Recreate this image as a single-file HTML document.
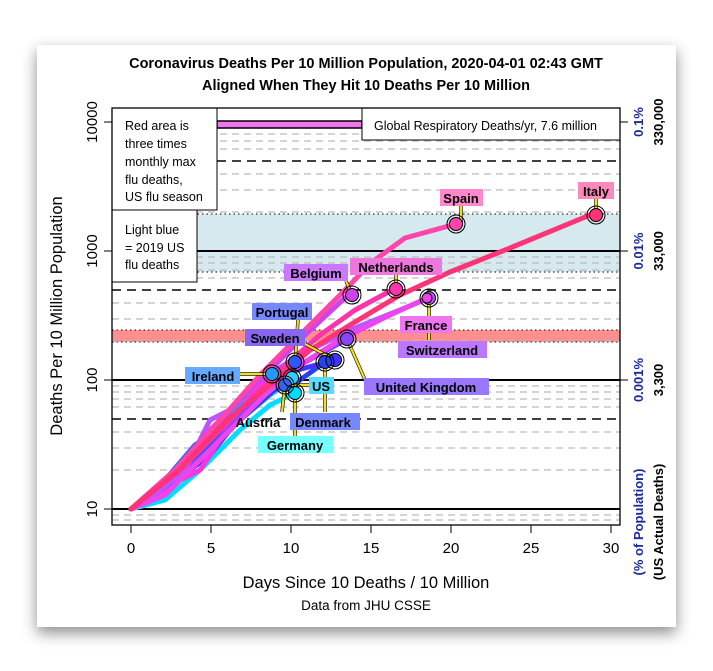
<!DOCTYPE html>
<html><head><meta charset="utf-8"><style>
body{margin:0;background:#fff;width:713px;height:671px;overflow:hidden}
.card{position:absolute;left:37px;top:45px;width:639px;height:582px;background:#fff;box-shadow:0 6px 14px rgba(0,0,0,0.45)}
svg{position:absolute;left:0;top:0}
text{font-family:"Liberation Sans",sans-serif}
</style></head><body>
<div class="card"></div>
<svg width="713" height="671" viewBox="0 0 713 671">
<text x="366" y="68" font-size="14.5" font-weight="bold" text-anchor="middle">Coronavirus Deaths Per 10 Million Population, 2020-04-01 02:43 GMT</text>
<text x="366" y="90" font-size="14.5" font-weight="bold" text-anchor="middle">Aligned When They Hit 10 Deaths Per 10 Million</text>
<rect x="112" y="214" width="508" height="58" fill="#d5e9ee"/>
<rect x="112" y="330" width="508" height="12" fill="#ff8f8f"/>
<g stroke="#333" stroke-dasharray="1.5,3" stroke-width="1.2">
<line x1="112" y1="214" x2="620" y2="214"/><line x1="112" y1="272" x2="620" y2="272"/>
<line x1="112" y1="330" x2="620" y2="330"/><line x1="112" y1="342" x2="620" y2="342"/>
</g>
<g stroke="#bbb" stroke-dasharray="7,5" stroke-width="1.2">
<line x1="112" y1="470" x2="620" y2="470"/><line x1="112" y1="448" x2="620" y2="448"/><line x1="112" y1="432" x2="620" y2="432"/><line x1="112" y1="407" x2="620" y2="407"/><line x1="112" y1="399" x2="620" y2="399"/><line x1="112" y1="392" x2="620" y2="392"/><line x1="112" y1="386" x2="620" y2="386"/>
<line x1="112" y1="341" x2="620" y2="341"/><line x1="112" y1="319" x2="620" y2="319"/><line x1="112" y1="303" x2="620" y2="303"/><line x1="112" y1="278" x2="620" y2="278"/><line x1="112" y1="270" x2="620" y2="270"/><line x1="112" y1="263" x2="620" y2="263"/><line x1="112" y1="257" x2="620" y2="257"/>
<line x1="112" y1="212" x2="620" y2="212"/><line x1="112" y1="190" x2="620" y2="190"/><line x1="112" y1="174" x2="620" y2="174"/><line x1="112" y1="149" x2="620" y2="149"/><line x1="112" y1="141" x2="620" y2="141"/><line x1="112" y1="134" x2="620" y2="134"/><line x1="112" y1="128" x2="620" y2="128"/>
<line x1="112" y1="515" x2="620" y2="515"/><line x1="112" y1="520" x2="620" y2="520"/>
</g>
<g stroke="#000" stroke-dasharray="9,6" stroke-width="1.5">
<line x1="112" y1="419" x2="620" y2="419"/><line x1="112" y1="290" x2="620" y2="290"/><line x1="112" y1="161" x2="620" y2="161"/>
</g>
<g stroke="#000" stroke-width="2">
<line x1="112" y1="509" x2="620" y2="509"/><line x1="112" y1="380" x2="620" y2="380"/><line x1="112" y1="251" x2="620" y2="251"/>
</g>
<rect x="217" y="121" width="145" height="7" fill="#ee77ee" stroke="#000" stroke-width="1.5"/>
<g fill="none" stroke-width="5" stroke-linejoin="round" stroke-linecap="round">
<polyline stroke="#2299ff" points="131,509 160,485 190,455 220,425 250,395 272,374"/>
<polyline stroke="#00ddff" points="131,509 165,500 200,470 240,430 270,405 295,393"/>
<polyline stroke="#33ccff" points="131,509 170,480 205,455 240,420 270,395 292,380"/>
<polyline stroke="#3366ee" points="131,509 165,480 195,445 225,425 255,400 285,385"/>
<polyline stroke="#3355ff" points="131,509 170,480 205,450 240,410 270,385 295,362"/>
<polyline stroke="#2244ee" points="131,509 160,488 200,460 240,420 280,385 300,380 325,362"/>
<polyline stroke="#4433ff" points="131,509 170,485 210,455 250,405 290,372 335,360"/>
<polyline stroke="#ff33dd" points="131,509 165,490 180,480 200,470 220,440 240,410 260,385 290,365"/>
<polyline stroke="#8844ff" points="131,509 175,480 210,450 250,405 275,385 300,365 347,339"/>
<polyline stroke="#bb55ff" points="131,509 160,490 185,470 210,420 230,410 260,380 300,355 350,330 400,310 429,298"/>
<polyline stroke="#ee44ee" points="131,509 165,495 195,465 230,430 265,395 300,365 340,340 390,315 427,298"/>
<polyline stroke="#cc44ee" points="131,509 175,470 210,430 245,395 275,365 305,335 348,295"/>
<polyline stroke="#ff33aa" points="131,509 180,470 230,420 280,370 320,335 355,310 394,289"/>
<polyline stroke="#ff44aa" points="131,509 175,470 220,420 260,375 300,335 340,295 372,262 405,238 456,224"/>
<polyline stroke="#ff3377" points="131,509 179,470 227,420 270,385 310,350 350,325 400,295 450,272 510,248 590,215"/>
</g>
<g stroke="#000" stroke-width="3.4"><g id="l">
<line x1="461" y1="224" x2="461" y2="206"/><line x1="596" y1="215" x2="596" y2="198"/>
<line x1="396" y1="289" x2="396" y2="275"/><line x1="352" y1="295" x2="346" y2="281"/>
<line x1="429" y1="298" x2="429" y2="340"/><line x1="347" y1="339" x2="366" y2="382"/>
<line x1="272" y1="374" x2="240" y2="374"/><line x1="295" y1="362" x2="298" y2="320"/>
<line x1="335" y1="360" x2="305" y2="344"/><line x1="325" y1="362" x2="325" y2="412"/>
<line x1="292" y1="385" x2="310" y2="385"/><line x1="285" y1="385" x2="282" y2="412"/>
<line x1="295" y1="393" x2="295" y2="436"/></g></g>
<g stroke="#f0e020" stroke-width="2.2"><use href="#l"/></g>
<g stroke="#000" stroke-width="1" id="m">
<circle cx="456" cy="224" r="6.5" fill="#ff44aa"/><circle cx="596" cy="215" r="6.5" fill="#ff3377"/>
<circle cx="396" cy="289" r="6.5" fill="#ff33aa"/><circle cx="352" cy="295" r="6.5" fill="#cc44ee"/>
<circle cx="429" cy="298" r="6.5" fill="#bb55ff"/><circle cx="427" cy="298" r="5" fill="#ee44ee"/>
<circle cx="347" cy="339" r="6.5" fill="#8844ff"/><circle cx="272" cy="374" r="6.5" fill="#2299ff"/>
<circle cx="295" cy="362" r="6.5" fill="#3355ff"/><circle cx="335" cy="360" r="6.5" fill="#4433ff"/>
<circle cx="325" cy="362" r="6.5" fill="#2244ee"/><circle cx="292" cy="378" r="6.5" fill="#33ccff"/>
<circle cx="285" cy="385" r="6.5" fill="#3366ee"/><circle cx="295" cy="393" r="6.5" fill="#00ddff"/>
</g>
<g stroke="#000" stroke-width="1" fill="none">
<circle cx="456" cy="224" r="9"/><circle cx="596" cy="215" r="9"/><circle cx="396" cy="289" r="9"/><circle cx="352" cy="295" r="9"/><circle cx="429" cy="298" r="9"/><circle cx="347" cy="339" r="9"/><circle cx="272" cy="374" r="9"/><circle cx="295" cy="362" r="9"/><circle cx="335" cy="360" r="9"/><circle cx="325" cy="362" r="9"/><circle cx="292" cy="378" r="9"/><circle cx="285" cy="385" r="9"/><circle cx="295" cy="393" r="9"/>
</g>
<g font-size="13" font-weight="bold">
<rect x="440" y="189" width="43" height="17" fill="#ff88cc"/><text x="461" y="203" text-anchor="middle">Spain</text>
<rect x="578" y="182" width="36" height="17" fill="#ff88bb"/><text x="596" y="196" text-anchor="middle">Italy</text>
<rect x="350" y="258" width="92" height="17" fill="#ee77dd"/><text x="396" y="272" text-anchor="middle">Netherlands</text>
<rect x="284" y="264" width="64" height="17" fill="#cc77ff"/><text x="316" y="278" text-anchor="middle">Belgium</text>
<rect x="400" y="316" width="52" height="17" fill="#ee77ee"/><text x="426" y="330" text-anchor="middle">France</text>
<rect x="398" y="341" width="89" height="17" fill="#bb77ff"/><text x="442" y="355" text-anchor="middle">Switzerland</text>
<rect x="364" y="378" width="125" height="17" fill="#9977ff"/><text x="426" y="392" text-anchor="middle">United Kingdom</text>
<rect x="252" y="303" width="60" height="17" fill="#7788ff"/><text x="282" y="317" text-anchor="middle">Portugal</text>
<rect x="245" y="329" width="60" height="17" fill="#8866ee"/><text x="275" y="343" text-anchor="middle">Sweden</text>
<rect x="185" y="367" width="55" height="17" fill="#66aaff"/><text x="213" y="381" text-anchor="middle">Ireland</text>
<rect x="309" y="377" width="25" height="17" fill="#55ddff"/><text x="321" y="391" text-anchor="middle">US</text>
<text x="258" y="427" text-anchor="middle">Austria</text>
<rect x="290" y="413" width="70" height="17" fill="#7788ff"/><text x="323" y="427" text-anchor="middle">Denmark</text>
<rect x="258" y="436" width="75" height="17" fill="#77ffff"/><text x="295" y="450" text-anchor="middle">Germany</text>
</g>
<g stroke="#000" stroke-width="1" fill="#fff">
<rect x="112" y="108" width="105" height="102"/><rect x="112" y="210" width="85" height="72"/><rect x="362" y="108" width="258" height="32"/>
</g>
<g font-size="12.5">
<text x="125" y="130">Red area is</text><text x="125" y="148">three times</text><text x="125" y="166">monthly max</text><text x="125" y="184">flu deaths,</text><text x="125" y="201">US flu season</text>
<text x="125" y="234">Light blue</text><text x="125" y="252">= 2019 US</text><text x="125" y="269">flu deaths</text>
<text x="374" y="130">Global Respiratory Deaths/yr, 7.6 million</text>
</g>
<rect x="112" y="108" width="508" height="417" fill="none" stroke="#000" stroke-width="1.3"/>
<g stroke="#000" stroke-width="1">
<line x1="104" y1="509" x2="112" y2="509"/><line x1="104" y1="380" x2="112" y2="380"/><line x1="104" y1="251" x2="112" y2="251"/><line x1="104" y1="122" x2="112" y2="122"/>
<line x1="620" y1="380" x2="628" y2="380"/><line x1="620" y1="251" x2="628" y2="251"/><line x1="620" y1="122" x2="628" y2="122"/>
<line x1="131" y1="525" x2="131" y2="533"/><line x1="211" y1="525" x2="211" y2="533"/><line x1="291" y1="525" x2="291" y2="533"/><line x1="371" y1="525" x2="371" y2="533"/><line x1="451" y1="525" x2="451" y2="533"/><line x1="531" y1="525" x2="531" y2="533"/><line x1="611" y1="525" x2="611" y2="533"/>
</g>
<g font-size="15" text-anchor="middle">
<text x="131" y="553">0</text><text x="211" y="553">5</text><text x="291" y="553">10</text><text x="371" y="553">15</text><text x="451" y="553">20</text><text x="531" y="553">25</text><text x="611" y="553">30</text>
<text transform="translate(97,509) rotate(-90)">10</text><text transform="translate(97,380) rotate(-90)">100</text><text transform="translate(97,251) rotate(-90)">1000</text><text transform="translate(97,122) rotate(-90)">10000</text>
</g>
<text x="366" y="588" font-size="16.5" text-anchor="middle">Days Since 10 Deaths / 10 Million</text>
<text x="366" y="610" font-size="13.5" text-anchor="middle">Data from JHU CSSE</text>
<text transform="translate(62,316) rotate(-90)" font-size="16.5" text-anchor="middle">Deaths Per 10 Million Population</text>
<g font-size="13" font-weight="bold" text-anchor="middle">
<g fill="#1a2a99">
<text transform="translate(643,122) rotate(-90)">0.1%</text><text transform="translate(643,251) rotate(-90)">0.01%</text><text transform="translate(643,380) rotate(-90)">0.001%</text>
<text transform="translate(643,522) rotate(-90)">(% of Population)</text></g>
<text transform="translate(663,122) rotate(-90)">330,000</text><text transform="translate(663,251) rotate(-90)">33,000</text><text transform="translate(663,380) rotate(-90)">3,300</text>
<text transform="translate(663,522) rotate(-90)">(US Actual Deaths)</text>
</g>
</svg>
</body></html>
